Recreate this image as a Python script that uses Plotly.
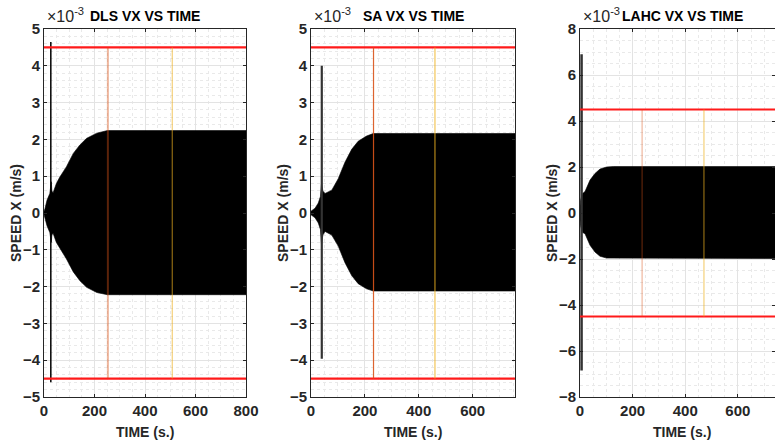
import plotly.graph_objects as go

# ---------------- data (speed values in units of 1e-3 m/s) ----------------
titles = ["DLS VX VS TIME", "SA VX VS TIME", "LAHC VX VS TIME"]

# DLS: envelope of the oscillating speed signal
dls_t = [0, 4, 12, 23, 29, 31, 36, 49, 62, 89, 116, 142, 169, 209, 251, 800]
dls_upper = [0.04, 0.12, 0.35, 0.53, 0.85, 0.60, 0.55, 0.80, 0.97, 1.26, 1.62, 1.85, 2.03, 2.17, 2.24, 2.24]
dls_lower = [-0.04, -0.12, -0.35, -0.53, -0.80, -0.60, -0.55, -0.80, -0.95, -1.25, -1.60, -1.84, -2.02, -2.16, -2.22, -2.22]
dls_spike_t = 27
dls_spike = [-4.6, 4.65]
dls_marks = [253, 508]

# SA
sa_t = [0, 15, 27, 35, 39, 44, 52, 77, 101, 126, 151, 175, 206, 231, 757]
sa_upper = [0.05, 0.13, 0.27, 0.45, 0.80, 0.60, 0.53, 0.62, 0.93, 1.38, 1.73, 1.95, 2.09, 2.16, 2.16]
sa_lower = [-0.05, -0.13, -0.27, -0.45, -0.85, -0.60, -0.50, -0.60, -0.90, -1.35, -1.70, -1.92, -2.06, -2.12, -2.12]
sa_spike_t = 40
sa_spike = [-3.96, 4.0]
sa_marks = [232, 460]

# LAHC
lahc_t = [0, 3, 10, 19, 38, 57, 76, 101, 127, 780]
lahc_upper = [0.30, 0.60, 0.85, 0.93, 1.43, 1.72, 1.91, 2.00, 2.02, 2.02]
lahc_lower = [-0.30, -0.60, -0.85, -0.90, -1.40, -1.70, -1.88, -1.96, -1.98, -1.98]
lahc_spike_t = 6
lahc_spike = [-6.85, 6.9]
lahc_marks = [236, 471]

limit = 4.5
x_ranges = [[0, 800], [0, 757], [0, 741]]
y_ranges = [[-5, 5], [-5, 5], [-8, 8]]
y_steps = [1, 1, 2]
y_minor = [0.2, 0.2, 0.5]

# ---------------- layout geometry ----------------
W, H = 775, 442
x_dom_px = [(44, 246), (311, 515), (580, 775)]
y_dom = [45 / H, 413 / H]

mark_colors = [
    ("rgba(217,83,25,0.42)", "rgba(237,177,32,0.6)"),
    ("rgba(217,83,25,0.9)", "rgba(237,177,32,0.75)"),
    ("rgba(217,83,25,0.42)", "rgba(237,177,32,0.6)"),
]
mark_widths = [(2, 1.2), (1.2, 1.2), (1.2, 1.2)]
spike_style = [("#000000", 1.5), ("#333333", 2.2), ("#333333", 2.5)]

series = [
    (dls_t, dls_upper, dls_lower, dls_spike_t, dls_spike, dls_marks),
    (sa_t, sa_upper, sa_lower, sa_spike_t, sa_spike, sa_marks),
    (lahc_t, lahc_upper, lahc_lower, lahc_spike_t, lahc_spike, lahc_marks),
]

FONT = "Liberation Sans"
AX = "#262626"

fig = go.Figure()
annotations = []

for i, (t, up, lo, st, sp, marks) in enumerate(series):
    xa = "x" if i == 0 else f"x{i + 1}"
    ya = "y" if i == 0 else f"y{i + 1}"

    # filled envelope of the fast oscillation
    fig.add_trace(go.Scatter(
        x=list(t) + list(t)[::-1], y=list(up) + list(lo)[::-1],
        fill="toself", fillcolor="black", mode="lines",
        line=dict(color="black", width=0.6),
        xaxis=xa, yaxis=ya, showlegend=False, hoverinfo="skip"))
    # start-up transient spike
    fig.add_trace(go.Scatter(
        x=[st, st], y=sp, mode="lines",
        line=dict(color=spike_style[i][0], width=spike_style[i][1]),
        xaxis=xa, yaxis=ya, showlegend=False, hoverinfo="skip"))
    # speed limits
    for lv in (limit, -limit):
        fig.add_trace(go.Scatter(
            x=x_ranges[i], y=[lv, lv], mode="lines",
            line=dict(color="#ff1a1a", width=2.2),
            xaxis=xa, yaxis=ya, showlegend=False, hoverinfo="skip"))
    # phase markers
    for k, m in enumerate(marks):
        fig.add_trace(go.Scatter(
            x=[m, m], y=[-limit, limit], mode="lines",
            line=dict(color=mark_colors[i][k], width=mark_widths[i][k]),
            xaxis=xa, yaxis=ya, showlegend=False, hoverinfo="skip"))

    x0, x1 = x_dom_px[i]
    common = dict(
        showline=True, linecolor=AX, linewidth=1, mirror="ticks",
        ticks="inside", ticklen=3, tickcolor=AX,
        showgrid=True, gridcolor="#e3e3e3", gridwidth=1,
        zeroline=False, automargin=False,
        tickfont=dict(family=FONT, size=15, color=AX, weight="bold"),
    )
    xaxis = dict(common, domain=[x0 / W, min(x1 / W, 1.0)], range=x_ranges[i],
                 dtick=200, tick0=0, anchor=ya,
                 minor=dict(dtick=50, showgrid=True, gridcolor="#e9e9e9", griddash="dot"))
    yaxis = dict(common, domain=y_dom, range=y_ranges[i], dtick=y_steps[i], tick0=0,
                 anchor=xa,
                 minor=dict(dtick=y_minor[i], showgrid=True, gridcolor="#e9e9e9", griddash="dot"))
    fig.update_layout(**{("xaxis" if i == 0 else f"xaxis{i + 1}"): xaxis,
                         ("yaxis" if i == 0 else f"yaxis{i + 1}"): yaxis})

    cx = [145, 413, 682][i]
    # title
    annotations.append(dict(
        text=f"<b>{titles[i]}</b>", x=cx / W, y=1 - 16 / H, xref="paper", yref="paper",
        xanchor="center", yanchor="middle", showarrow=False,
        font=dict(family=FONT, size=14, color="black")))
    # exponent label
    annotations.append(dict(
        text="×10<sup>-3</sup>", x=(x0 + 1) / W, y=1 - 15 / H, xref="paper", yref="paper",
        xanchor="left", yanchor="middle", showarrow=False,
        font=dict(family=FONT, size=16, color=AX)))
    # axis titles
    annotations.append(dict(
        text="<b>TIME (s.)</b>", x=cx / W, y=1 - 432 / H, xref="paper", yref="paper",
        xanchor="center", yanchor="middle", showarrow=False,
        font=dict(family=FONT, size=14, color=AX)))
    annotations.append(dict(
        text="<b>SPEED X (m/s)</b>", x=(x0 - 28) / W, y=1 - 213 / H, xref="paper", yref="paper",
        xanchor="center", yanchor="middle", showarrow=False, textangle=-90,
        font=dict(family=FONT, size=14, color=AX)))

fig.update_layout(
    width=W, height=H, autosize=False,
    margin=dict(l=0, r=0, t=0, b=0),
    paper_bgcolor="white", plot_bgcolor="white",
    annotations=annotations,
)

fig.write_html("out.html")
